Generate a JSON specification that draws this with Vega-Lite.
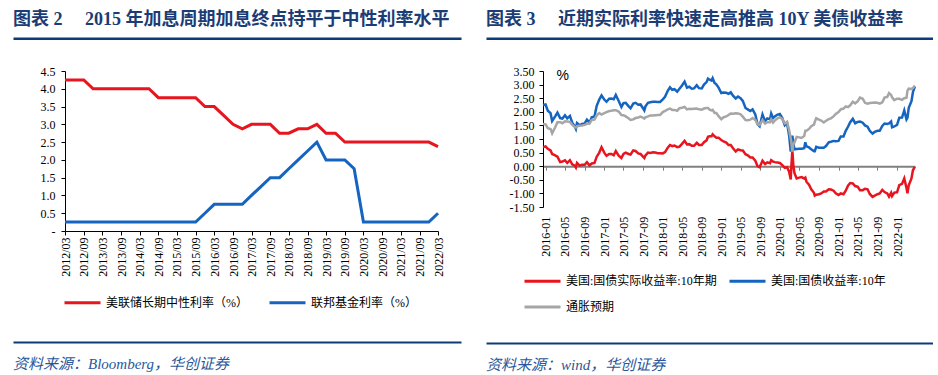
{
  "$schema": "https://vega.github.io/schema/vega-lite/v6.json",
  "background": "white",
  "padding": {"left": 13, "top": 10, "right": 0, "bottom": 0},
  "config": {
    "view": {"stroke": null},
    "axis": {"grid": false, "labelFont": "Liberation Serif", "labelFontSize": 12, "labelColor": "#000000", "domainColor": "#000000", "tickColor": "#000000", "title": null},
    "legend": {"labelFont": "Liberation Serif, Noto Sans CJK SC", "labelFontSize": 12, "labelColor": "#000000", "title": null},
    "title": {"font": "Liberation Serif, Noto Sans CJK SC"}
  },
  "resolve": {"scale": {"color": "independent", "x": "independent", "y": "independent"}, "legend": {"color": "independent"}},
  "datasets": {
    "fed": [
      {"d": "2012-03-01", "neutral": 4.25, "ffr": 0.25},
      {"d": "2012-06-01", "neutral": 4.25, "ffr": 0.25},
      {"d": "2012-09-01", "neutral": 4.25, "ffr": 0.25},
      {"d": "2012-12-01", "neutral": 4.0, "ffr": 0.25},
      {"d": "2013-03-01", "neutral": 4.0, "ffr": 0.25},
      {"d": "2013-06-01", "neutral": 4.0, "ffr": 0.25},
      {"d": "2013-09-01", "neutral": 4.0, "ffr": 0.25},
      {"d": "2013-12-01", "neutral": 4.0, "ffr": 0.25},
      {"d": "2014-03-01", "neutral": 4.0, "ffr": 0.25},
      {"d": "2014-06-01", "neutral": 4.0, "ffr": 0.25},
      {"d": "2014-09-01", "neutral": 3.75, "ffr": 0.25},
      {"d": "2014-12-01", "neutral": 3.75, "ffr": 0.25},
      {"d": "2015-03-01", "neutral": 3.75, "ffr": 0.25},
      {"d": "2015-06-01", "neutral": 3.75, "ffr": 0.25},
      {"d": "2015-09-01", "neutral": 3.75, "ffr": 0.25},
      {"d": "2015-12-01", "neutral": 3.5, "ffr": 0.5},
      {"d": "2016-03-01", "neutral": 3.5, "ffr": 0.75},
      {"d": "2016-06-01", "neutral": 3.25, "ffr": 0.75},
      {"d": "2016-09-01", "neutral": 3.0, "ffr": 0.75},
      {"d": "2016-12-01", "neutral": 2.875, "ffr": 0.75},
      {"d": "2017-03-01", "neutral": 3.0, "ffr": 1.0},
      {"d": "2017-06-01", "neutral": 3.0, "ffr": 1.25},
      {"d": "2017-09-01", "neutral": 3.0, "ffr": 1.5},
      {"d": "2017-12-01", "neutral": 2.75, "ffr": 1.5},
      {"d": "2018-03-01", "neutral": 2.75, "ffr": 1.75},
      {"d": "2018-06-01", "neutral": 2.875, "ffr": 2.0},
      {"d": "2018-09-01", "neutral": 2.875, "ffr": 2.25},
      {"d": "2018-12-01", "neutral": 3.0, "ffr": 2.5},
      {"d": "2019-03-01", "neutral": 2.75, "ffr": 2.0},
      {"d": "2019-06-01", "neutral": 2.75, "ffr": 2.0},
      {"d": "2019-09-01", "neutral": 2.5, "ffr": 2.0},
      {"d": "2019-12-01", "neutral": 2.5, "ffr": 1.75},
      {"d": "2020-03-01", "neutral": 2.5, "ffr": 0.25},
      {"d": "2020-06-01", "neutral": 2.5, "ffr": 0.25},
      {"d": "2020-09-01", "neutral": 2.5, "ffr": 0.25},
      {"d": "2020-12-01", "neutral": 2.5, "ffr": 0.25},
      {"d": "2021-03-01", "neutral": 2.5, "ffr": 0.25},
      {"d": "2021-06-01", "neutral": 2.5, "ffr": 0.25},
      {"d": "2021-09-01", "neutral": 2.5, "ffr": 0.25},
      {"d": "2021-12-01", "neutral": 2.5, "ffr": 0.25},
      {"d": "2022-03-01", "neutral": 2.375, "ffr": 0.5}
    ],
    "yields": [
      {"d": "2015-12-16", "r": 0.70, "n": 2.25, "b": 1.55},
      {"d": "2016-01-01", "r": 0.73, "n": 2.27, "b": 1.54},
      {"d": "2016-01-15", "r": 0.64, "n": 2.04, "b": 1.40},
      {"d": "2016-02-01", "r": 0.58, "n": 1.95, "b": 1.37},
      {"d": "2016-02-11", "r": 0.45, "n": 1.66, "b": 1.21},
      {"d": "2016-03-01", "r": 0.40, "n": 1.83, "b": 1.43},
      {"d": "2016-03-15", "r": 0.35, "n": 1.97, "b": 1.62},
      {"d": "2016-04-01", "r": 0.15, "n": 1.77, "b": 1.62},
      {"d": "2016-04-15", "r": 0.17, "n": 1.75, "b": 1.58},
      {"d": "2016-05-01", "r": 0.22, "n": 1.87, "b": 1.65},
      {"d": "2016-05-15", "r": 0.12, "n": 1.76, "b": 1.64},
      {"d": "2016-06-01", "r": 0.22, "n": 1.85, "b": 1.63},
      {"d": "2016-06-15", "r": 0.07, "n": 1.60, "b": 1.53},
      {"d": "2016-07-01", "r": 0.02, "n": 1.46, "b": 1.44},
      {"d": "2016-07-08", "r": -0.05, "n": 1.37, "b": 1.42},
      {"d": "2016-07-15", "r": 0.12, "n": 1.59, "b": 1.47},
      {"d": "2016-08-01", "r": 0.02, "n": 1.51, "b": 1.49},
      {"d": "2016-08-15", "r": 0.05, "n": 1.55, "b": 1.50},
      {"d": "2016-09-01", "r": 0.05, "n": 1.57, "b": 1.52},
      {"d": "2016-09-15", "r": 0.15, "n": 1.71, "b": 1.56},
      {"d": "2016-10-01", "r": 0.03, "n": 1.60, "b": 1.57},
      {"d": "2016-10-15", "r": 0.10, "n": 1.80, "b": 1.70},
      {"d": "2016-11-01", "r": 0.12, "n": 1.83, "b": 1.71},
      {"d": "2016-11-15", "r": 0.35, "n": 2.22, "b": 1.87},
      {"d": "2016-12-01", "r": 0.50, "n": 2.45, "b": 1.95},
      {"d": "2016-12-15", "r": 0.70, "n": 2.60, "b": 1.90},
      {"d": "2017-01-01", "r": 0.50, "n": 2.45, "b": 1.95},
      {"d": "2017-01-15", "r": 0.38, "n": 2.37, "b": 1.99},
      {"d": "2017-02-01", "r": 0.45, "n": 2.48, "b": 2.03},
      {"d": "2017-02-15", "r": 0.45, "n": 2.49, "b": 2.04},
      {"d": "2017-03-01", "r": 0.40, "n": 2.46, "b": 2.06},
      {"d": "2017-03-14", "r": 0.56, "n": 2.62, "b": 2.06},
      {"d": "2017-04-01", "r": 0.39, "n": 2.40, "b": 2.01},
      {"d": "2017-04-18", "r": 0.30, "n": 2.18, "b": 1.88},
      {"d": "2017-05-01", "r": 0.45, "n": 2.32, "b": 1.87},
      {"d": "2017-05-15", "r": 0.50, "n": 2.33, "b": 1.83},
      {"d": "2017-06-01", "r": 0.45, "n": 2.21, "b": 1.76},
      {"d": "2017-06-14", "r": 0.43, "n": 2.13, "b": 1.70},
      {"d": "2017-07-01", "r": 0.58, "n": 2.30, "b": 1.72},
      {"d": "2017-07-15", "r": 0.56, "n": 2.33, "b": 1.77},
      {"d": "2017-08-01", "r": 0.47, "n": 2.26, "b": 1.79},
      {"d": "2017-08-15", "r": 0.45, "n": 2.27, "b": 1.82},
      {"d": "2017-09-01", "r": 0.34, "n": 2.12, "b": 1.78},
      {"d": "2017-09-08", "r": 0.30, "n": 2.05, "b": 1.75},
      {"d": "2017-09-15", "r": 0.40, "n": 2.20, "b": 1.80},
      {"d": "2017-10-01", "r": 0.50, "n": 2.33, "b": 1.83},
      {"d": "2017-10-15", "r": 0.49, "n": 2.35, "b": 1.86},
      {"d": "2017-11-01", "r": 0.51, "n": 2.37, "b": 1.86},
      {"d": "2017-11-15", "r": 0.50, "n": 2.37, "b": 1.87},
      {"d": "2017-12-01", "r": 0.48, "n": 2.36, "b": 1.88},
      {"d": "2017-12-15", "r": 0.48, "n": 2.36, "b": 1.88},
      {"d": "2018-01-01", "r": 0.47, "n": 2.46, "b": 1.99},
      {"d": "2018-01-15", "r": 0.52, "n": 2.55, "b": 2.03},
      {"d": "2018-02-01", "r": 0.68, "n": 2.77, "b": 2.09},
      {"d": "2018-02-15", "r": 0.78, "n": 2.90, "b": 2.12},
      {"d": "2018-03-01", "r": 0.74, "n": 2.81, "b": 2.07},
      {"d": "2018-03-15", "r": 0.76, "n": 2.83, "b": 2.07},
      {"d": "2018-04-01", "r": 0.70, "n": 2.74, "b": 2.04},
      {"d": "2018-04-15", "r": 0.72, "n": 2.85, "b": 2.13},
      {"d": "2018-05-01", "r": 0.82, "n": 2.97, "b": 2.15},
      {"d": "2018-05-17", "r": 0.93, "n": 3.11, "b": 2.18},
      {"d": "2018-06-01", "r": 0.80, "n": 2.89, "b": 2.09},
      {"d": "2018-06-15", "r": 0.81, "n": 2.92, "b": 2.11},
      {"d": "2018-07-01", "r": 0.75, "n": 2.85, "b": 2.10},
      {"d": "2018-07-15", "r": 0.75, "n": 2.86, "b": 2.11},
      {"d": "2018-08-01", "r": 0.86, "n": 2.98, "b": 2.12},
      {"d": "2018-08-15", "r": 0.78, "n": 2.87, "b": 2.09},
      {"d": "2018-09-01", "r": 0.78, "n": 2.86, "b": 2.08},
      {"d": "2018-09-15", "r": 0.88, "n": 3.00, "b": 2.12},
      {"d": "2018-10-01", "r": 0.95, "n": 3.09, "b": 2.14},
      {"d": "2018-10-10", "r": 1.08, "n": 3.22, "b": 2.14},
      {"d": "2018-10-20", "r": 1.10, "n": 3.18, "b": 2.08},
      {"d": "2018-11-01", "r": 1.10, "n": 3.15, "b": 2.05},
      {"d": "2018-11-08", "r": 1.17, "n": 3.24, "b": 2.07},
      {"d": "2018-11-20", "r": 1.10, "n": 3.06, "b": 1.96},
      {"d": "2018-12-01", "r": 1.05, "n": 3.01, "b": 1.96},
      {"d": "2018-12-15", "r": 1.05, "n": 2.89, "b": 1.84},
      {"d": "2019-01-01", "r": 0.96, "n": 2.69, "b": 1.73},
      {"d": "2019-01-15", "r": 0.91, "n": 2.71, "b": 1.80},
      {"d": "2019-02-01", "r": 0.87, "n": 2.70, "b": 1.83},
      {"d": "2019-02-15", "r": 0.78, "n": 2.66, "b": 1.88},
      {"d": "2019-03-01", "r": 0.78, "n": 2.72, "b": 1.94},
      {"d": "2019-03-15", "r": 0.66, "n": 2.59, "b": 1.93},
      {"d": "2019-04-01", "r": 0.54, "n": 2.49, "b": 1.95},
      {"d": "2019-04-15", "r": 0.62, "n": 2.56, "b": 1.94},
      {"d": "2019-05-01", "r": 0.59, "n": 2.50, "b": 1.91},
      {"d": "2019-05-15", "r": 0.58, "n": 2.40, "b": 1.82},
      {"d": "2019-06-01", "r": 0.44, "n": 2.14, "b": 1.70},
      {"d": "2019-06-15", "r": 0.40, "n": 2.09, "b": 1.69},
      {"d": "2019-07-01", "r": 0.32, "n": 2.03, "b": 1.71},
      {"d": "2019-07-15", "r": 0.32, "n": 2.09, "b": 1.77},
      {"d": "2019-08-01", "r": 0.20, "n": 1.90, "b": 1.70},
      {"d": "2019-08-15", "r": 0.00, "n": 1.55, "b": 1.55},
      {"d": "2019-08-28", "r": -0.04, "n": 1.47, "b": 1.51},
      {"d": "2019-09-15", "r": 0.20, "n": 1.90, "b": 1.70},
      {"d": "2019-10-01", "r": 0.08, "n": 1.65, "b": 1.57},
      {"d": "2019-10-15", "r": 0.14, "n": 1.76, "b": 1.62},
      {"d": "2019-11-01", "r": 0.11, "n": 1.73, "b": 1.62},
      {"d": "2019-11-08", "r": 0.22, "n": 1.94, "b": 1.72},
      {"d": "2019-11-20", "r": 0.17, "n": 1.77, "b": 1.60},
      {"d": "2019-12-01", "r": 0.15, "n": 1.83, "b": 1.68},
      {"d": "2019-12-15", "r": 0.14, "n": 1.89, "b": 1.75},
      {"d": "2020-01-01", "r": 0.12, "n": 1.92, "b": 1.80},
      {"d": "2020-01-15", "r": 0.05, "n": 1.79, "b": 1.74},
      {"d": "2020-02-01", "r": -0.06, "n": 1.51, "b": 1.57},
      {"d": "2020-02-15", "r": -0.04, "n": 1.59, "b": 1.63},
      {"d": "2020-02-28", "r": -0.20, "n": 1.13, "b": 1.33},
      {"d": "2020-03-09", "r": -0.49, "n": 0.54, "b": 1.03},
      {"d": "2020-03-12", "r": -0.10, "n": 0.82, "b": 0.92},
      {"d": "2020-03-19", "r": 0.58, "n": 1.12, "b": 0.54},
      {"d": "2020-03-25", "r": 0.05, "n": 0.86, "b": 0.81},
      {"d": "2020-04-01", "r": -0.25, "n": 0.62, "b": 0.87},
      {"d": "2020-04-15", "r": -0.45, "n": 0.63, "b": 1.08},
      {"d": "2020-05-01", "r": -0.42, "n": 0.64, "b": 1.06},
      {"d": "2020-05-15", "r": -0.40, "n": 0.64, "b": 1.04},
      {"d": "2020-06-01", "r": -0.45, "n": 0.66, "b": 1.11},
      {"d": "2020-06-08", "r": -0.42, "n": 0.88, "b": 1.30},
      {"d": "2020-06-15", "r": -0.57, "n": 0.73, "b": 1.30},
      {"d": "2020-07-01", "r": -0.68, "n": 0.69, "b": 1.37},
      {"d": "2020-07-15", "r": -0.85, "n": 0.62, "b": 1.47},
      {"d": "2020-08-01", "r": -0.98, "n": 0.55, "b": 1.53},
      {"d": "2020-08-06", "r": -1.08, "n": 0.55, "b": 1.63},
      {"d": "2020-08-15", "r": -1.05, "n": 0.71, "b": 1.76},
      {"d": "2020-09-01", "r": -1.03, "n": 0.68, "b": 1.71},
      {"d": "2020-09-15", "r": -1.00, "n": 0.68, "b": 1.68},
      {"d": "2020-10-01", "r": -0.93, "n": 0.68, "b": 1.61},
      {"d": "2020-10-15", "r": -0.93, "n": 0.74, "b": 1.67},
      {"d": "2020-11-01", "r": -0.85, "n": 0.88, "b": 1.73},
      {"d": "2020-11-15", "r": -0.86, "n": 0.90, "b": 1.76},
      {"d": "2020-12-01", "r": -0.90, "n": 0.93, "b": 1.83},
      {"d": "2020-12-15", "r": -1.00, "n": 0.92, "b": 1.92},
      {"d": "2021-01-01", "r": -1.06, "n": 0.93, "b": 1.99},
      {"d": "2021-01-15", "r": -1.00, "n": 1.09, "b": 2.09},
      {"d": "2021-02-01", "r": -1.03, "n": 1.09, "b": 2.12},
      {"d": "2021-02-15", "r": -0.90, "n": 1.30, "b": 2.20},
      {"d": "2021-03-01", "r": -0.72, "n": 1.45, "b": 2.17},
      {"d": "2021-03-15", "r": -0.62, "n": 1.62, "b": 2.24},
      {"d": "2021-03-31", "r": -0.63, "n": 1.74, "b": 2.37},
      {"d": "2021-04-15", "r": -0.73, "n": 1.58, "b": 2.31},
      {"d": "2021-05-01", "r": -0.76, "n": 1.63, "b": 2.39},
      {"d": "2021-05-15", "r": -0.88, "n": 1.64, "b": 2.52},
      {"d": "2021-06-01", "r": -0.88, "n": 1.60, "b": 2.48},
      {"d": "2021-06-15", "r": -0.83, "n": 1.50, "b": 2.33},
      {"d": "2021-07-01", "r": -0.85, "n": 1.45, "b": 2.30},
      {"d": "2021-07-15", "r": -1.02, "n": 1.30, "b": 2.32},
      {"d": "2021-08-01", "r": -1.13, "n": 1.20, "b": 2.33},
      {"d": "2021-08-15", "r": -1.08, "n": 1.26, "b": 2.34},
      {"d": "2021-09-01", "r": -1.03, "n": 1.30, "b": 2.33},
      {"d": "2021-09-15", "r": -1.00, "n": 1.30, "b": 2.30},
      {"d": "2021-10-01", "r": -0.87, "n": 1.48, "b": 2.35},
      {"d": "2021-10-15", "r": -0.95, "n": 1.57, "b": 2.52},
      {"d": "2021-11-01", "r": -1.00, "n": 1.55, "b": 2.55},
      {"d": "2021-11-12", "r": -1.12, "n": 1.57, "b": 2.69},
      {"d": "2021-11-25", "r": -0.98, "n": 1.64, "b": 2.62},
      {"d": "2021-12-01", "r": -1.10, "n": 1.43, "b": 2.53},
      {"d": "2021-12-15", "r": -0.97, "n": 1.46, "b": 2.43},
      {"d": "2022-01-01", "r": -0.96, "n": 1.52, "b": 2.48},
      {"d": "2022-01-15", "r": -0.70, "n": 1.78, "b": 2.48},
      {"d": "2022-02-01", "r": -0.65, "n": 1.79, "b": 2.44},
      {"d": "2022-02-15", "r": -0.45, "n": 2.05, "b": 2.50},
      {"d": "2022-03-01", "r": -0.80, "n": 1.72, "b": 2.52},
      {"d": "2022-03-07", "r": -1.00, "n": 1.78, "b": 2.78},
      {"d": "2022-03-15", "r": -0.70, "n": 2.15, "b": 2.85},
      {"d": "2022-04-01", "r": -0.45, "n": 2.39, "b": 2.84},
      {"d": "2022-04-10", "r": -0.15, "n": 2.72, "b": 2.87},
      {"d": "2022-04-22", "r": -0.02, "n": 2.93, "b": 2.97}
    ]
  },
  "hconcat": [
    {
      "spacing": 24,
      "resolve": {"scale": {"color": "independent", "x": "independent"}, "legend": {"color": "independent"}, "axis": {"x": "independent"}},
      "vconcat": [
        {
          "width": 396, "height": 2.5,
          "title": {"text": "图表 2\u3000\u00a02015 年加息周期加息终点持平于中性利率水平", "anchor": "start", "frame": "group", "dx": -52, "fontSize": 18, "fontWeight": "bold", "color": "#1B3C74", "offset": 7},
          "data": {"values": [{"v": 0}]},
          "mark": {"type": "point", "opacity": 0},
          "encoding": {"x": {"field": "v", "type": "quantitative", "scale": {"domain": [0, 1], "range": [0, 448]},
            "axis": {"orient": "bottom", "offset": -1.25, "position": -52, "domainColor": "#0D3B78", "domainWidth": 2.5, "ticks": false, "labels": false, "title": null}}}
        },
        {
          "spacing": 30,
          "resolve": {"scale": {"color": "independent", "x": "independent"}, "legend": {"color": "independent"}, "axis": {"x": "independent"}},
          "vconcat": [
            {
              "width": 373, "height": 160,
              "data": {"name": "fed"},
              "transform": [{"fold": ["neutral", "ffr"], "as": ["k", "v"]}],
              "mark": {"type": "line", "strokeWidth": 3},
              "encoding": {
                "x": {"field": "d", "type": "temporal",
                  "scale": {"type": "utc", "domain": [{"year": 2012, "month": 3, "date": 1, "utc": true}, {"year": 2022, "month": 3, "date": 1, "utc": true}]},
                  "axis": {"format": "%Y/%m", "labelAngle": -90, "labelFlush": false, "labelOverlap": false, "labelBound": false, "tickSize": 4, "labelPadding": 2,
                    "values": [
                      {"year": 2012, "month": 3, "date": 1, "utc": true}, {"year": 2012, "month": 9, "date": 1, "utc": true},
                      {"year": 2013, "month": 3, "date": 1, "utc": true}, {"year": 2013, "month": 9, "date": 1, "utc": true},
                      {"year": 2014, "month": 3, "date": 1, "utc": true}, {"year": 2014, "month": 9, "date": 1, "utc": true},
                      {"year": 2015, "month": 3, "date": 1, "utc": true}, {"year": 2015, "month": 9, "date": 1, "utc": true},
                      {"year": 2016, "month": 3, "date": 1, "utc": true}, {"year": 2016, "month": 9, "date": 1, "utc": true},
                      {"year": 2017, "month": 3, "date": 1, "utc": true}, {"year": 2017, "month": 9, "date": 1, "utc": true},
                      {"year": 2018, "month": 3, "date": 1, "utc": true}, {"year": 2018, "month": 9, "date": 1, "utc": true},
                      {"year": 2019, "month": 3, "date": 1, "utc": true}, {"year": 2019, "month": 9, "date": 1, "utc": true},
                      {"year": 2020, "month": 3, "date": 1, "utc": true}, {"year": 2020, "month": 9, "date": 1, "utc": true},
                      {"year": 2021, "month": 3, "date": 1, "utc": true}, {"year": 2021, "month": 9, "date": 1, "utc": true},
                      {"year": 2022, "month": 3, "date": 1, "utc": true}
                    ]}},
                "y": {"field": "v", "type": "quantitative",
                  "scale": {"domain": [0, 4.5], "nice": false, "zero": false},
                  "axis": {"values": [0, 0.5, 1, 1.5, 2, 2.5, 3, 3.5, 4, 4.5], "labelExpr": "datum.value === 0 ? '-' : format(datum.value, '.1f')", "tickSize": 4, "labelPadding": 6, "minExtent": 52, "maxExtent": 52}},
                "color": {"field": "k", "type": "nominal",
                  "scale": {"domain": ["neutral", "ffr"], "range": ["#E8141E", "#1565C0"]},
                  "legend": {"orient": "none", "legendX": -2, "legendY": 212, "direction": "horizontal", "symbolType": "stroke", "symbolSize": 1296, "symbolStrokeWidth": 3, "labelOffset": 4, "columnPadding": 15, "padding": 0,
                    "labelExpr": "datum.label === 'neutral' ? '美联储长期中性利率（%）' : '联邦基金利率（%）'"}}
              }
            },
            {
              "width": 396, "height": 2,
              "title": {"text": "资料来源：Bloomberg，华创证券", "orient": "bottom", "anchor": "start", "frame": "group", "dx": -52, "fontSize": 15, "fontStyle": "italic", "fontWeight": "normal", "color": "#2B579A", "offset": 12},
              "data": {"values": [{"v": 0}]},
              "mark": {"type": "point", "opacity": 0},
              "encoding": {"x": {"field": "v", "type": "quantitative", "scale": {"domain": [0, 1], "range": [0, 448]},
                "axis": {"orient": "bottom", "offset": -1, "position": -52, "domainColor": "#0D3B78", "domainWidth": 2, "ticks": false, "labels": false, "title": null}}}
            }
          ]
        }
      ]
    },
    {
      "spacing": 24,
      "resolve": {"scale": {"color": "independent", "x": "independent"}, "legend": {"color": "independent"}, "axis": {"x": "independent"}},
      "vconcat": [
        {
          "width": 390, "height": 2.5,
          "title": {"text": "图表 3\u3000\u00a0近期实际利率快速走高推高 10Y 美债收益率", "anchor": "start", "frame": "group", "dx": -57, "fontSize": 18, "fontWeight": "bold", "color": "#1B3C74", "offset": 7},
          "data": {"values": [{"v": 0}]},
          "mark": {"type": "point", "opacity": 0},
          "encoding": {"x": {"field": "v", "type": "quantitative", "scale": {"domain": [0, 1], "range": [0, 447]},
            "axis": {"orient": "bottom", "offset": -1.25, "position": -57, "domainColor": "#0D3B78", "domainWidth": 2.5, "ticks": false, "labels": false, "title": null}}}
        },
        {
          "spacing": 26,
          "resolve": {"scale": {"color": "independent", "x": "independent"}, "legend": {"color": "independent"}, "axis": {"x": "independent"}},
          "vconcat": [
            {
              "width": 372, "height": 136,
              "data": {"name": "yields"},
              "transform": [{"fold": ["r", "n", "b"], "as": ["k", "v"]}],
              "mark": {"type": "line", "strokeWidth": 2.5},
              "encoding": {
                "x": {"field": "d", "type": "temporal",
                  "scale": {"type": "utc", "domain": [{"year": 2015, "month": 12, "date": 16, "utc": true}, {"year": 2022, "month": 4, "date": 23, "utc": true}]},
                  "axis": {"format": "%Y-%m", "labelAngle": -90, "labelFlush": false, "labelOverlap": false, "labelBound": false, "tickCount": {"interval": "month", "step": 4},
                    "offset": -40.8, "domainColor": "#808080", "domainWidth": 2, "tickColor": "#808080", "tickSize": 4, "labelPadding": 46}},
                "y": {"field": "v", "type": "quantitative",
                  "scale": {"domain": [-1.5, 3.5], "nice": false, "zero": false},
                  "axis": {"values": [-1.5, -1, -0.5, 0, 0.5, 1, 1.5, 2, 2.5, 3, 3.5], "labelExpr": "replace(format(datum.value, '.2f'), '\u2212', '-')", "tickSize": 4, "labelPadding": 5, "minExtent": 57, "maxExtent": 57,
                    "title": "%", "titleAngle": 0, "titleX": 13, "titleY": 4, "titleAlign": "left", "titleBaseline": "middle", "titleFont": "Liberation Sans", "titleFontSize": 14, "titleFontWeight": "normal", "titleColor": "#000000"}},
                "color": {"field": "k", "type": "nominal",
                  "scale": {"domain": ["r", "n", "b"], "range": ["#E8141E", "#1565C0", "#A6A6A6"]},
                  "legend": {"orient": "none", "legendX": -20, "legendY": 190.6, "direction": "horizontal", "columns": 2, "symbolType": "stroke", "symbolSize": 1296, "symbolStrokeWidth": 3, "labelOffset": 4, "columnPadding": 6, "rowPadding": -12, "padding": 0,
                    "labelExpr": "datum.label === 'r' ? '美国:国债实际收益率:10年期' : datum.label === 'n' ? '美国:国债收益率:10年' : '通胀预期'"}}
              }
            },
            {
              "width": 390, "height": 2,
              "title": {"text": "资料来源：wind，华创证券", "orient": "bottom", "anchor": "start", "frame": "group", "dx": -57, "fontSize": 15, "fontStyle": "italic", "fontWeight": "normal", "color": "#2B579A", "offset": 12},
              "data": {"values": [{"v": 0}]},
              "mark": {"type": "point", "opacity": 0},
              "encoding": {"x": {"field": "v", "type": "quantitative", "scale": {"domain": [0, 1], "range": [0, 447]},
                "axis": {"orient": "bottom", "offset": -1, "position": -57, "domainColor": "#0D3B78", "domainWidth": 2, "ticks": false, "labels": false, "title": null}}}
            }
          ]
        }
      ]
    }
  ],
  "spacing": 25
}
